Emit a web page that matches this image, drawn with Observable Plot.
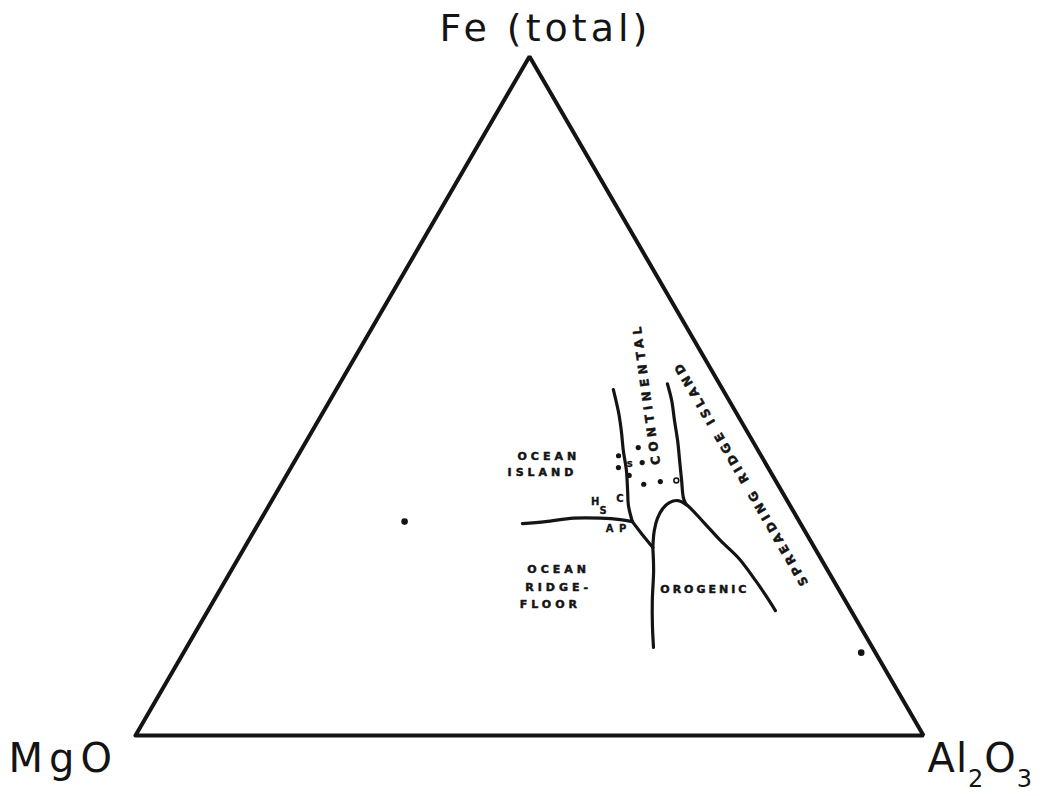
<!DOCTYPE html>
<html>
<head>
<meta charset="utf-8">
<script src="https://cdn.jsdelivr.net/npm/d3@7"></script>
<script src="https://cdn.jsdelivr.net/npm/@observablehq/plot@0.6"></script>
<style>
html, body { margin: 0; padding: 0; background: #fff; }
#chart svg { display: block; }
</style>
</head>
<body>
<div id="chart"></div>
<script>
// Compositions are [MgO, Fe (total), Al2O3] in percent
const vertexNames = ["MgO", "Fe (total)", "Al₂O₃"];
const vertexMgO = [100, 0, 0];
const vertexFe = [0, 100, 0];
const vertexAl = [0, 0, 100];

// Boundary between ocean island and continental (upper part)
const continentalWest = [
  [13.9, 51.0, 35.2], [14.9, 47.6, 37.5], [15.9, 44.9, 39.2], [17.1, 42.0, 40.9],
  [18.2, 39.0, 42.8], [19.5, 36.1, 44.4], [20.5, 33.9, 45.6], [21.2, 31.5, 47.3]
];
// Boundary between ocean island and ocean ridge floor
const oceanIslandBase = [
  [35.3, 31.2, 33.5], [32.2, 31.5, 36.3], [28.4, 32.0, 39.6], [25.0, 32.0, 43.0],
  [22.6, 31.8, 45.6], [21.2, 31.5, 47.3]
];
// Short diagonal from triple junction to the orogenic junction
const junctionLink = [[21.2, 31.5, 47.3], [20.9, 29.6, 49.5], [20.5, 27.7, 51.8]];
// Ocean ridge floor / orogenic boundary
const orogenicWest = [
  [20.5, 27.7, 51.8], [22.1, 24.3, 53.6], [24.5, 19.9, 55.7], [26.3, 16.2, 57.5], [27.8, 13.0, 59.3]
];
// Continental / spreading ridge island boundary
const continentalEast = [
  [6.6, 51.8, 41.6], [7.3, 49.3, 43.4], [8.4, 46.4, 45.2], [9.5, 43.4, 47.1],
  [10.7, 40.5, 48.8], [11.9, 37.6, 50.5], [13.0, 34.9, 52.1], [13.1, 34.0, 52.9]
];
// Orogenic field dome and its eastern boundary
const orogenicDome = [
  [20.5, 27.7, 51.8], [19.1, 30.2, 50.8], [17.8, 32.0, 50.3], [16.4, 33.4, 50.2],
  [15.1, 34.3, 50.6], [13.9, 34.6, 51.5], [13.1, 34.0, 52.9], [12.2, 31.4, 56.4],
  [11.4, 28.7, 59.9], [10.4, 26.1, 63.5], [9.9, 22.8, 67.3], [9.7, 20.6, 69.6], [9.6, 18.4, 72.0]
];

// Samples
const samplesFilled = [
  [18.1, 41.2, 40.7], [19.0, 39.5, 41.6], [18.2, 38.3, 43.5], [15.0, 42.4, 42.6],
  [15.6, 40.2, 44.2], [17.0, 37.0, 46.0], [14.7, 37.4, 47.9]
];
const samplesOpen = [[12.6, 37.6, 49.9]];
const samplesLarge = [[50.1, 31.5, 18.4], [1.8, 12.2, 86.0]];

// Field labels
const regionNames = ["OCEAN", "ISLAND", "OCEAN", "RIDGE-", "FLOOR"];
const regionPos = [
  [27.0, 41.1, 31.9], [29.0, 38.7, 32.3], [34.1, 24.4, 41.5], [35.4, 21.8, 42.8], [37.7, 19.3, 43.0]
];
const orogenicName = ["OROGENIC"];
const orogenicPos = [[17.0, 21.5, 61.5]];
const continentalName = ["CONTINENTAL"];
const continentalPos = [[10.0, 50.4, 39.7]];
const spreadingName = ["SPREADING RIDGE ISLAND"];
const spreadingPos = [[3.9, 38.6, 57.5]];
const smallNames = ["H", "S", "C", "A P", "s"];
const smallPos = [
  [24.4, 34.5, 41.2], [24.0, 33.1, 42.8], [21.0, 34.9, 44.1], [23.7, 30.5, 45.8], [17.2, 40.1, 42.8]
];

// Ternary -> cartesian (equilateral triangle, unit base)
const SQ = Math.sqrt(3) / 2;
function toXY([mg, fe, al], extra = {}) {
  const s = mg + fe + al;
  return {x: (al + fe / 2) / s, y: (fe / s) * SQ, ...extra};
}
const pts = (arr) => arr.map((d) => toXY(d));
const labeled = (names, pos) => names.map((n, i) => toXY(pos[i], {label: n}));

const INK = "#141414";
const FONT = "DejaVu Sans, Verdana, sans-serif";

const triangle = pts([vertexMgO, vertexFe, vertexAl, vertexMgO]);

// letter-spacing (px) for each text mark, in mark order
const textSpacing = [4, 3, 4.5, 3.6, 1, 4, 6, 1];

const fieldText = {
  x: "x", y: "y", text: "label", fontWeight: 700, fontFamily: FONT,
  fill: INK, stroke: INK, strokeWidth: 0.5, textAnchor: "middle", lineAnchor: "middle"
};

const chart = Plot.plot({
  width: 1044,
  height: 796,
  margin: 0,
  style: {background: "white"},
  x: {domain: [0, 1], range: [135, 923], axis: null},
  y: {domain: [0, SQ], range: [735, 56], axis: null},
  marks: [
    Plot.line(triangle, {x: "x", y: "y", stroke: INK, strokeWidth: 4, strokeLinejoin: "miter"}),
    Plot.line(pts(continentalWest), {x: "x", y: "y", stroke: INK, strokeWidth: 3.2, curve: "catmull-rom"}),
    Plot.line(pts(oceanIslandBase), {x: "x", y: "y", stroke: INK, strokeWidth: 3.2, curve: "catmull-rom"}),
    Plot.line(pts(junctionLink), {x: "x", y: "y", stroke: INK, strokeWidth: 3.2}),
    Plot.line(pts(orogenicWest), {x: "x", y: "y", stroke: INK, strokeWidth: 3.2, curve: "catmull-rom"}),
    Plot.line(pts(continentalEast), {x: "x", y: "y", stroke: INK, strokeWidth: 3.2, curve: "catmull-rom"}),
    Plot.line(pts(orogenicDome), {x: "x", y: "y", stroke: INK, strokeWidth: 3.2, curve: "catmull-rom"}),

    Plot.dot(pts(samplesFilled), {x: "x", y: "y", r: 2.6, fill: INK, stroke: "none"}),
    Plot.dot(pts(samplesOpen), {x: "x", y: "y", r: 2.4, fill: "white", stroke: INK, strokeWidth: 1.6}),
    Plot.dot(pts(samplesLarge), {x: "x", y: "y", r: 3.3, fill: INK, stroke: "none"}),

    Plot.text(labeled(regionNames, regionPos), {...fieldText, fontSize: 11}),
    Plot.text(labeled(orogenicName, orogenicPos), {...fieldText, fontSize: 11}),
    Plot.text(labeled(continentalName, continentalPos), {...fieldText, fontSize: 12, rotate: -98}),
    Plot.text(labeled(spreadingName, spreadingPos), {...fieldText, fontSize: 12, rotate: -120}),
    Plot.text(labeled(smallNames, smallPos), {...fieldText, fontSize: 10, strokeWidth: 0.3}),

    Plot.text([toXY(vertexFe, {label: vertexNames[1]})], {
      x: "x", y: "y", text: "label", dx: 16, dy: -16,
      fontSize: 38, fontFamily: FONT, fill: INK, textAnchor: "middle", lineAnchor: "bottom"
    }),
    Plot.text([toXY(vertexMgO, {label: vertexNames[0]})], {
      x: "x", y: "y", text: "label", dx: -127, dy: 36,
      fontSize: 40, fontFamily: FONT, fill: INK, textAnchor: "start", lineAnchor: "bottom"
    }),
    Plot.text([toXY(vertexAl, {label: vertexNames[2]})], {
      x: "x", y: "y", text: "label", dx: 4, dy: 36,
      fontSize: 40, fontFamily: FONT, fill: INK, textAnchor: "start", lineAnchor: "bottom"
    })
  ]
});

// letter spacing per text mark
const textGroups = chart.querySelectorAll('g[aria-label="text"]');
textGroups.forEach((g, i) => {
  if (textSpacing[i] != null) g.setAttribute("letter-spacing", textSpacing[i] + "px");
});

// render subscripts of the Al2O3 label as lowered, smaller digits
const subMap = {"₂": "2", "₃": "3"};
chart.querySelectorAll("text").forEach((t) => {
  const s = t.textContent;
  if (!/[₂₃]/.test(s)) return;
  t.textContent = "";
  let lowered = false;
  for (const ch of s) {
    const ts = document.createElementNS("http://www.w3.org/2000/svg", "tspan");
    if (subMap[ch]) {
      ts.textContent = subMap[ch];
      ts.setAttribute("font-size", "24");
      if (!lowered) { ts.setAttribute("dy", "15"); lowered = true; }
    } else {
      ts.textContent = ch;
      if (lowered) { ts.setAttribute("dy", "-15"); lowered = false; }
    }
    t.appendChild(ts);
  }
});

document.getElementById("chart").appendChild(chart);
</script>
</body>
</html>
